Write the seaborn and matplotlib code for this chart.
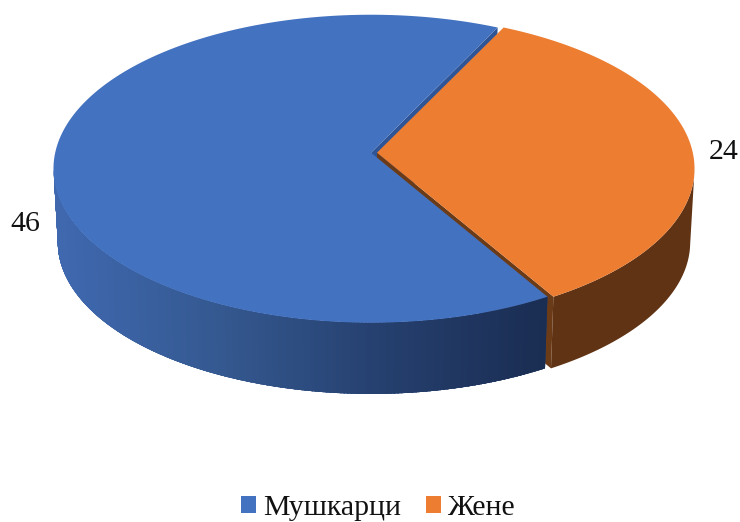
import numpy as np
import matplotlib
matplotlib.use("Agg")
import matplotlib.pyplot as plt
from matplotlib.collections import PolyCollection
from matplotlib.patches import Patch, Polygon
import seaborn as sns

categories = ["Мушкарци", "Жене"]
values = [46, 24]
top_colors = ["#4372C0", "#EC7D31"]
wall_colors = ["#2F5597", "#6B3A17"]
blue_side = ["#3F68AF", "#34588F", "#253F6E", "#1A2D52"]
orange_side = "#603314"

sns.set_theme(style="white")
plt.rcParams["font.family"] = ["Liberation Serif", "DejaVu Serif"]

# projection of the disc, in pixels of the axes
q = 0.1039
top = dict(yc=152.7, a=315.8, p=152.3)
bottom = dict(yc=226.5, a=311.5, p=150.0)
widest = np.degrees(np.arcsin(q))  # rim is widest this far below the horizontal


def project(cx, deg, r, face):
    t = np.radians(deg)
    x, y = r * np.cos(t), r * np.sin(t)
    w = 1 + q * y
    return cx + face["a"] * x / w, face["yc"] - face["p"] * y / w


def rim(cx, deg, face):
    return np.column_stack(project(cx, deg, np.ones_like(deg), face))


def apex(cx, face):
    return np.array(project(cx, 0.0, 0.0, face))


def side_outline(cx, deg):
    return np.vstack([rim(cx, deg, top), rim(cx, deg, bottom)[::-1]])


def blue_wall_side(ax, cx, deg):
    # gradient made of thin strips, clipped to the outline so the edge stays smooth
    outline = Polygon(side_outline(cx, deg), closed=True, facecolor=blue_side[1], lw=0)
    ax.add_patch(outline)
    up = rim(cx, deg, top)
    down = rim(cx, deg, bottom)
    quads = [[up[i], up[i + 1], down[i + 1], down[i]] for i in range(len(deg) - 1)]
    pal = sns.blend_palette(blue_side, 256)
    idx = np.clip((up[:-1, 0] - 60) / (545 - 60) * 255, 0, 255).astype(int)
    strips = PolyCollection(quads, facecolors=[pal[i] for i in idx], edgecolors=[pal[i] for i in idx],
                            linewidths=1.0, antialiaseds=False)
    ax.add_collection(strips)
    strips.set_clip_path(outline)


def wall(ax, cx, deg, color):
    pts = [apex(cx, top), rim(cx, np.array([deg]), top)[0],
           rim(cx, np.array([deg]), bottom)[0], apex(cx, bottom)]
    ax.fill(*zip(*pts), color=color, lw=0)


def top_face(ax, cx, deg, color):
    pts = np.vstack([apex(cx, top), rim(cx, deg, top)])
    ax.fill(pts[:, 0], pts[:, 1], color=color, lw=0)


fig = plt.figure(figsize=(7.4, 5.22), dpi=100)
ax = fig.add_axes([0, 0, 1, 1])
ax.set_xlim(0, 740)
ax.set_ylim(522, 0)
ax.axis("off")

# angles come from the values
start = 64.0
sweep_orange = values[1] / sum(values) * 360
end = start - sweep_orange
blue_deg = np.linspace(start, end + 360, 400)
orange_deg = np.linspace(end, start, 160)
cx_blue, cx_orange = 371.0, 377.0

wall(ax, cx_blue, start, wall_colors[0])
wall(ax, cx_orange, end, wall_colors[1])

# only the front of the rim shows
blue_wall_side(ax, cx_blue, blue_deg[blue_deg >= 180 + widest])
top_face(ax, cx_blue, blue_deg, top_colors[0])
ax.fill(*side_outline(cx_orange, orange_deg[orange_deg <= -widest]).T, color=orange_side, lw=0)
top_face(ax, cx_orange, orange_deg, top_colors[1])

ax.text(25.5, 224, str(values[0]), fontsize=21.5, ha="center", va="center", color="#111111")
ax.text(723.5, 152, str(values[1]), fontsize=21.5, ha="center", va="center", color="#111111")

handles = [Patch(facecolor=c, edgecolor="none", label=n) for c, n in zip(top_colors, categories)]
ax.legend(handles=handles, loc="center", bbox_to_anchor=(378.5, 508), bbox_transform=ax.transData,
          ncol=2, frameon=False, fontsize=21.5, handlelength=0.5, handleheight=0.5,
          handletextpad=0.23, columnspacing=0.83, labelcolor="#111111", borderpad=0)

fig.savefig("out.png", dpi=100)
